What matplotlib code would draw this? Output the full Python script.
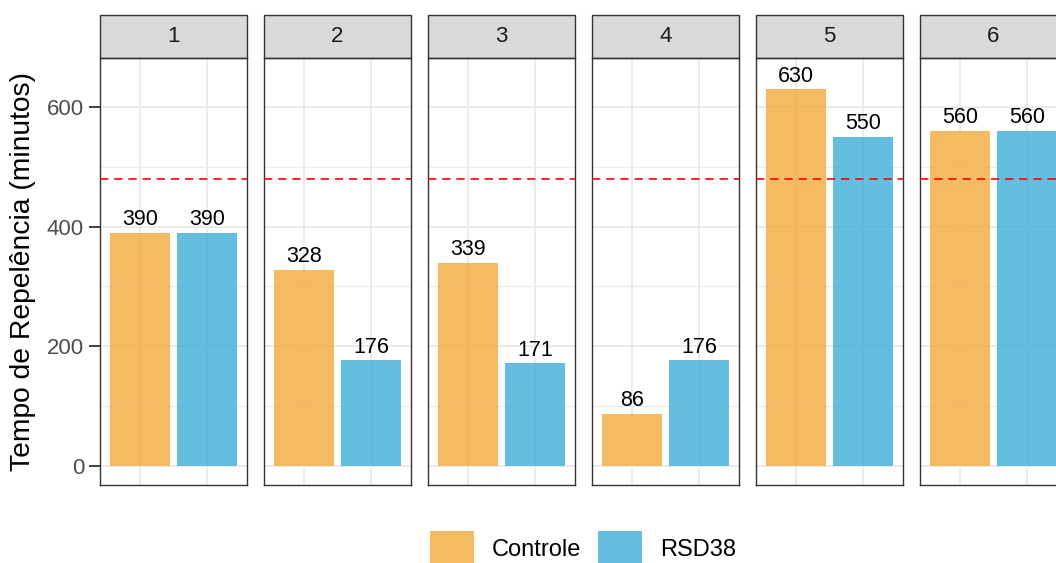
import numpy as np
import matplotlib.pyplot as plt
from matplotlib.patches import Rectangle, Patch

plt.rcParams['font.family'] = ['Liberation Sans', 'DejaVu Sans']

# dados
grupos = ['1', '2', '3', '4', '5', '6']
tratamentos = ['Controle', 'RSD38']
controle = [390, 328, 339, 86, 630, 560]
rsd38 = [390, 176, 171, 176, 550, 560]
limite = 480
cores = ['#F2AA3C', '#3DAED9']

W, H = 1056, 563
fig = plt.figure(figsize=(W / 100, H / 100), dpi=100)

painel_x0 = 100
painel_w = 147
passo = 164
painel_top = 58
painel_bot = 485
faixa_h = 43

for i, g in enumerate(grupos):
    left = (painel_x0 + i * passo) / W
    ax = fig.add_axes([left, (H - painel_bot) / H, painel_w / W, (painel_bot - painel_top) / H])
    vals = [controle[i], rsd38[i]]
    xs = np.arange(1, 3)
    ax.bar(xs, vals, width=0.9, color=cores, alpha=0.8, zorder=2)
    for x, v in zip(xs, vals):
        ax.annotate(str(v), (x, v), xytext=(0, 2), textcoords='offset points',
                    ha='center', va='bottom', fontsize=15.5, color='black', zorder=4)
    ax.axhline(limite, color='#FF0000', lw=1.2, ls=(0, (5, 3.5)), zorder=3)

    ax.set_xlim(0.4, 2.6)
    ax.set_ylim(-32.5, 682.5)
    ax.set_yticks([0, 200, 400, 600])
    ax.set_yticks([100, 300, 500], minor=True)
    ax.set_xticks(xs)
    ax.grid(which='major', color='#EBEBEB', lw=1.4, zorder=0)
    ax.grid(which='minor', axis='y', color='#EBEBEB', lw=0.8, zorder=0)
    ax.set_axisbelow(True)
    ax.tick_params(axis='x', length=0, labelbottom=False)
    ax.tick_params(axis='y', which='minor', length=0)
    if i == 0:
        ax.tick_params(axis='y', which='major', length=8, width=1.3, color='#333333',
                       labelsize=16, labelcolor='#4D4D4D', pad=3.5)
        ax.set_ylabel('Tempo de Repelência (minutos)', fontsize=20.3, color='black', labelpad=8)
    else:
        ax.tick_params(axis='y', which='major', length=0, labelleft=False)
    for s in ax.spines.values():
        s.set_color('#333333')
        s.set_linewidth(1.0)

    # faixa do facet
    fh = faixa_h / (painel_bot - painel_top)
    ax.add_patch(Rectangle((0, 1), 1, fh, transform=ax.transAxes, clip_on=False,
                           facecolor='#D9D9D9', edgecolor='#333333', lw=1.0))
    ax.text(0.5, 1 + fh / 2, g, transform=ax.transAxes, ha='center', va='center',
            fontsize=16, color='#1A1A1A')

handles = [Patch(facecolor=c, alpha=0.8, edgecolor='none') for c in cores]
fig.legend(handles, tratamentos, loc='center', bbox_to_anchor=(583 / W, 15 / H),
           ncol=2, frameon=False, fontsize=17, handlelength=1.86, handleheight=1.86,
           handletextpad=0.76, columnspacing=0.72, borderpad=0)

fig.savefig('out.png', dpi=100)
